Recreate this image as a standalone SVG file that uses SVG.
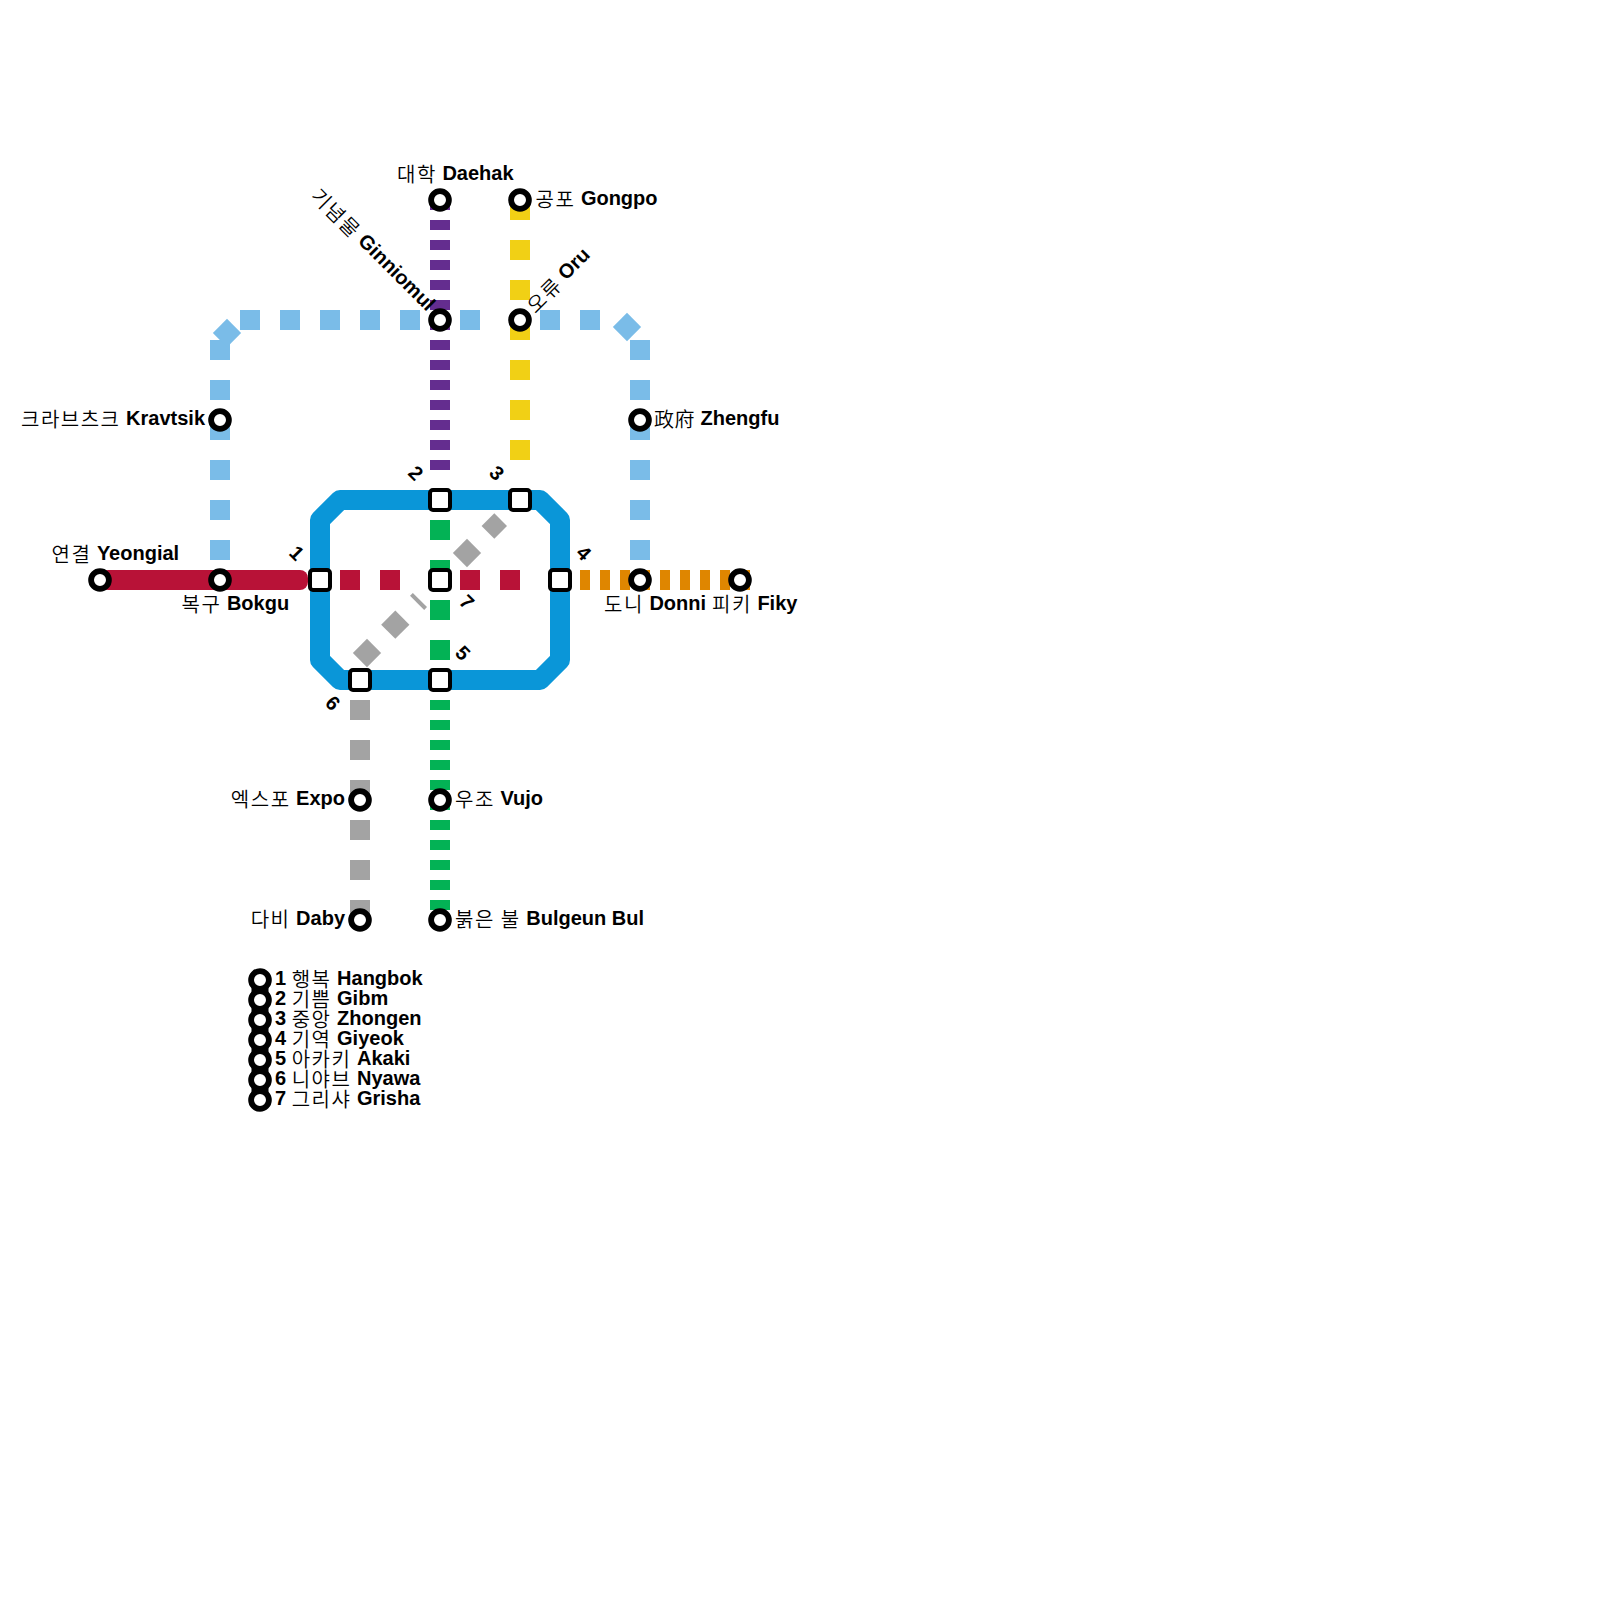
<svg xmlns="http://www.w3.org/2000/svg" width="1600" height="1600" viewBox="0 0 1600 1600">
<style>
text{font-family:"Liberation Sans","Noto Sans CJK KR",sans-serif;font-size:20px;fill:#000}
.k{font-family:"Noto Sans CJK KR","Noto Sans CJK SC",sans-serif;font-weight:350;letter-spacing:1.5px;baseline-shift:-2px}
.z{font-family:"Noto Sans CJK SC","Noto Sans CJK KR",sans-serif;font-weight:350;letter-spacing:.5px;baseline-shift:-2px}
.b{font-family:"Liberation Sans",sans-serif;font-weight:700}
.n{font-family:"Liberation Sans",sans-serif;font-weight:700;text-anchor:middle;dominant-baseline:central;font-size:20px}
.l{fill:none;stroke-width:20}
.st{fill:#fff;stroke:#000;stroke-width:5.8}
.sq{fill:#fff;stroke:#000;stroke-width:4}
</style>
<rect width="1600" height="1600" fill="#fff"/>
<g id="connectors">
<rect x="100" y="570" width="208" height="20" rx="8" fill="#b81237"/>
<path class="l" d="M340 580H400M460 580H520" stroke="#b81237" stroke-dasharray="20 20"/>
<path class="l" d="M580 580H750" stroke="#df8600" stroke-dasharray="10 10"/>
<g fill="#7abce8">
<path class="l" stroke="#7abce8" stroke-dasharray="20 20" d="M240 320H420M460 320H480M540 320H600"/>
<path class="l" stroke="#7abce8" stroke-dasharray="20 20" d="M220 340V560M640 340V560"/>
<rect x="-10" y="-10" width="20" height="20" transform="translate(227 333) rotate(45)"/>
<rect x="-10" y="-10" width="20" height="20" transform="translate(627 327) rotate(45)"/>
</g>
<path class="l" stroke="#642d8f" stroke-dasharray="10 10" d="M440 200V470"/>
<path class="l" stroke="#f1d015" stroke-dasharray="20 20" d="M520 200V460"/>
<path class="l" stroke="#03b255" stroke-dasharray="20 20" d="M440 520V660"/>
<path class="l" stroke="#03b255" stroke-dasharray="10 10" d="M440 700V910"/>
<path class="l" stroke="#a3a3a3" stroke-dasharray="20 20" d="M360 700V920"/>
<g fill="#a3a3a3">
<rect x="-10" y="-10" width="20" height="20" transform="translate(367 653) rotate(45)"/>
<rect x="-10" y="-10" width="20" height="20" transform="translate(395.3 624.7) rotate(45)"/>
<rect x="-2" y="-10" width="4" height="20" transform="translate(418.5 601.4) rotate(-45)"/>
<rect x="-10" y="-10" width="20" height="20" transform="translate(467 553) rotate(45)"/>
<rect x="-9" y="-9" width="18" height="18" transform="translate(494.3 526) rotate(45)"/>
</g>
<path class="l" stroke="#0a96d8" stroke-linejoin="round" d="M340 500H540L560 520V660L540 680H340L320 660V520Z"/>
</g>
<g id="n-yeongial"><circle class="st" cx="100" cy="580" r="8.9"/><text x="51.500" y="560"><tspan class="k">연결</tspan> <tspan class="b">Yeongial</tspan></text></g>
<g id="n-bokgu"><circle class="st" cx="220" cy="580" r="8.9"/><text x="181.500" y="610"><tspan class="k">복구</tspan> <tspan class="b">Bokgu</tspan></text></g>
<g id="n-kravtsik"><circle class="st" cx="220" cy="420" r="8.9"/><text x="205" y="425" text-anchor="end"><tspan class="k">크라브츠크</tspan> <tspan class="b">Kravtsik</tspan></text></g>
<g id="n-zhengfu"><circle class="st" cx="640" cy="420" r="8.9"/><text x="654" y="425"><tspan class="z">政府</tspan> <tspan class="b">Zhengfu</tspan></text></g>
<g id="n-daehak"><circle class="st" cx="440" cy="200" r="8.9"/><text x="397" y="180"><tspan class="k">대학</tspan> <tspan class="b">Daehak</tspan></text></g>
<g id="n-gongpo"><circle class="st" cx="520" cy="200" r="8.9"/><text x="535.500" y="205"><tspan class="k">공포</tspan> <tspan class="b">Gongpo</tspan></text></g>
<g id="n-ginniomul"><circle class="st" cx="440" cy="320" r="8.9"/><text text-anchor="end" transform="translate(427 312) rotate(45)"><tspan class="k">기념물</tspan> <tspan class="b">Ginniomul</tspan></text></g>
<g id="n-oru"><circle class="st" cx="520" cy="320" r="8.9"/><text transform="translate(534 313) rotate(-45)"><tspan class="k">오류</tspan> <tspan class="b">Oru</tspan></text></g>
<g id="n-donni"><circle class="st" cx="640" cy="580" r="8.9"/><text x="604" y="610"><tspan class="k">도니</tspan> <tspan class="b">Donni</tspan></text></g>
<g id="n-fiky"><circle class="st" cx="740" cy="580" r="8.9"/><text x="712" y="610"><tspan class="k">피키</tspan> <tspan class="b">Fiky</tspan></text></g>
<g id="n-expo"><circle class="st" cx="360" cy="800" r="8.9"/><text x="345" y="805" text-anchor="end"><tspan class="k">엑스포</tspan> <tspan class="b">Expo</tspan></text></g>
<g id="n-daby"><circle class="st" cx="360" cy="920" r="8.9"/><text x="345" y="925" text-anchor="end"><tspan class="k">다비</tspan> <tspan class="b">Daby</tspan></text></g>
<g id="n-vujo"><circle class="st" cx="440" cy="800" r="8.9"/><text x="455" y="805"><tspan class="k">우조</tspan> <tspan class="b">Vujo</tspan></text></g>
<g id="n-bulgeun"><circle class="st" cx="440" cy="920" r="8.9"/><text x="455" y="925"><tspan class="k">붉은 불</tspan> <tspan class="b">Bulgeun Bul</tspan></text></g>
<g id="n-1"><rect class="sq" x="310" y="570" width="20" height="20" rx="3"/><text class="n" transform="translate(297 553) rotate(45)">1</text></g>
<g id="n-2"><rect class="sq" x="430" y="490" width="20" height="20" rx="3"/><text class="n" transform="translate(416 473) rotate(45)">2</text></g>
<g id="n-3"><rect class="sq" x="510" y="490" width="20" height="20" rx="3"/><text class="n" transform="translate(497 473) rotate(45)">3</text></g>
<g id="n-4"><rect class="sq" x="550" y="570" width="20" height="20" rx="3"/><text class="n" transform="translate(584 553) rotate(45)">4</text></g>
<g id="n-5"><rect class="sq" x="430" y="670" width="20" height="20" rx="3"/><text class="n" transform="translate(463 653) rotate(45)">5</text></g>
<g id="n-6"><rect class="sq" x="350" y="670" width="20" height="20" rx="3"/><text class="n" transform="translate(333 703) rotate(45)">6</text></g>
<g id="n-7"><rect class="sq" x="430" y="570" width="20" height="20" rx="3"/><text class="n" transform="translate(467 602) rotate(45)">7</text></g>
<g id="legend">
<path d="M260 980V1100" stroke="#000" stroke-width="17"/>
<circle class="st" cx="260" cy="980" r="8.9"/><circle class="st" cx="260" cy="1000" r="8.9"/><circle class="st" cx="260" cy="1020" r="8.9"/><circle class="st" cx="260" cy="1040" r="8.9"/><circle class="st" cx="260" cy="1060" r="8.9"/><circle class="st" cx="260" cy="1080" r="8.9"/><circle class="st" cx="260" cy="1100" r="8.9"/>
<text x="275" y="985"><tspan class="b">1</tspan> <tspan class="k">행복</tspan> <tspan class="b">Hangbok</tspan></text>
<text x="275" y="1005"><tspan class="b">2</tspan> <tspan class="k">기쁨</tspan> <tspan class="b">Gibm</tspan></text>
<text x="275" y="1025"><tspan class="b">3</tspan> <tspan class="k">중앙</tspan> <tspan class="b">Zhongen</tspan></text>
<text x="275" y="1045"><tspan class="b">4</tspan> <tspan class="k">기역</tspan> <tspan class="b">Giyeok</tspan></text>
<text x="275" y="1065"><tspan class="b">5</tspan> <tspan class="k">아카키</tspan> <tspan class="b">Akaki</tspan></text>
<text x="275" y="1085"><tspan class="b">6</tspan> <tspan class="k">니야브</tspan> <tspan class="b">Nyawa</tspan></text>
<text x="275" y="1105"><tspan class="b">7</tspan> <tspan class="k">그리샤</tspan> <tspan class="b">Grisha</tspan></text>
</g>
</svg>
